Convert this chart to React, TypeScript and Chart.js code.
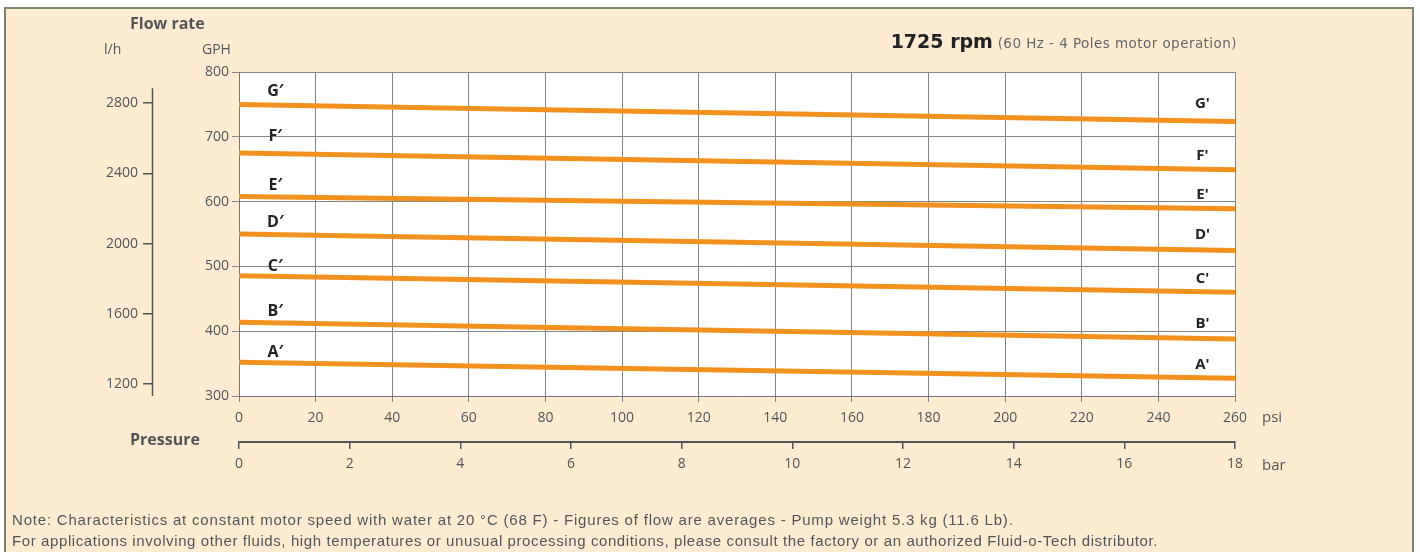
import React, { useEffect, useRef } from "react";
import { Chart, registerables } from "chart.js";

Chart.register(...registerables);

// ---- data ----
const PSI_POINTS = [0, 260];
const SERIES_A = [352, 327.5];
const SERIES_B = [414, 388];
const SERIES_C = [485.5, 460];
const SERIES_D = [550, 524.5];
const SERIES_E = [608, 589];
const SERIES_F = [675, 649];
const SERIES_G = [750, 723.6];
const SERIES_NAMES = ["A", "B", "C", "D", "E", "F", "G"];

const LEFT_LABELS = ["A′", "B′", "C′", "D′", "E′", "F′", "G′"];
const RIGHT_LABELS = ["A'", "B'", "C'", "D'", "E'", "F'", "G'"];
const LEFT_LABEL_GPH = [367, 431, 500, 568, 625.6, 700, 769.6];
const RIGHT_LABEL_GPH = [347.8, 412.2, 481.6, 548.5, 610, 670.8, 750.6];
const LEFT_LABEL_PSI = 9.5;
const RIGHT_LABEL_PSI = 251.5;

const PSI_TICKS = [0, 20, 40, 60, 80, 100, 120, 140, 160, 180, 200, 220, 240, 260];
const GPH_TICKS = [300, 400, 500, 600, 700, 800];
const LH_TICKS = [1200, 1600, 2000, 2400, 2800];
const BAR_TICKS = [0, 2, 4, 6, 8, 10, 12, 14, 16, 18];
const LH_MIN = 1132;
const LH_MAX = 2977;
const LH_AXIS_TOP = 2885;

const ORANGE = "#f2911d";
const TICK_FONT = { family: "'Open Sans', sans-serif", size: 14 };
const TICK_COLOR = "#555";
const plain = (v: any) => String(v);

export default function App() {
  const canvasRef = useRef<HTMLCanvasElement | null>(null);

  useEffect(() => {
    const canvas = canvasRef.current;
    if (!canvas) return;
    const seriesValues = [SERIES_A, SERIES_B, SERIES_C, SERIES_D, SERIES_E, SERIES_F, SERIES_G];

    const bgPlugin = {
      id: "plotBg",
      beforeDraw(chart: any) {
        const { ctx, chartArea } = chart;
        ctx.save();
        ctx.fillStyle = "#ffffff";
        ctx.fillRect(chartArea.left, chartArea.top, chartArea.right - chartArea.left, chartArea.bottom - chartArea.top);
        ctx.restore();
      },
    };

    const decoPlugin = {
      id: "deco",
      afterDraw(chart: any) {
        const { ctx, chartArea } = chart;
        const xs = chart.scales.x;
        const ys = chart.scales.y;
        const y2 = chart.scales.y2;
        ctx.save();
        ctx.strokeStyle = "#555";
        ctx.lineWidth = 1.5;
        ctx.beginPath();
        ctx.moveTo(y2.right - 0.5, y2.getPixelForValue(LH_AXIS_TOP));
        ctx.lineTo(y2.right - 0.5, chartArea.bottom);
        ctx.stroke();
        ctx.fillStyle = "#222";
        ctx.textAlign = "center";
        ctx.textBaseline = "middle";
        ctx.font = "bold 16px 'Open Sans', sans-serif";
        LEFT_LABELS.forEach((t, i) => {
          ctx.fillText(t, xs.getPixelForValue(LEFT_LABEL_PSI), ys.getPixelForValue(LEFT_LABEL_GPH[i]));
        });
        ctx.font = "bold 15px 'Open Sans', sans-serif";
        RIGHT_LABELS.forEach((t, i) => {
          ctx.fillText(t, xs.getPixelForValue(RIGHT_LABEL_PSI), ys.getPixelForValue(RIGHT_LABEL_GPH[i]));
        });
        ctx.restore();
      },
    };

    const chart = new Chart(canvas, {
      type: "line",
      data: {
        datasets: seriesValues.map((vals, i) => ({
          label: SERIES_NAMES[i],
          data: PSI_POINTS.map((p, j) => ({ x: p, y: vals[j] })),
          borderColor: ORANGE,
          backgroundColor: ORANGE,
          borderWidth: 5,
          pointRadius: 0,
          xAxisID: "x",
          yAxisID: "y",
        })),
      },
      options: {
        responsive: false,
        animation: false,
        layout: { padding: { left: 90, top: 72, right: 185, bottom: 80 } },
        plugins: { legend: { display: false }, tooltip: { enabled: false }, title: { display: false } },
        scales: {
          x: {
            type: "linear",
            position: "bottom",
            weight: 0,
            min: 0,
            max: 260,
            afterBuildTicks: (s: any) => { s.ticks = PSI_TICKS.map((v) => ({ value: v })); },
            afterFit: (s: any) => { s.height = 46; },
            ticks: { font: TICK_FONT, color: TICK_COLOR, padding: 8, maxRotation: 0, callback: plain },
            grid: { color: "#858585", lineWidth: 1, tickLength: 6 },
            border: { color: "#777", width: 1 },
          },
          x2: {
            type: "linear",
            position: "bottom",
            weight: 1,
            min: 0,
            max: 18,
            afterBuildTicks: (s: any) => { s.ticks = BAR_TICKS.map((v) => ({ value: v })); },
            afterFit: (s: any) => { s.height = 30; },
            ticks: { font: TICK_FONT, color: TICK_COLOR, padding: 7, maxRotation: 0, callback: plain },
            grid: { drawOnChartArea: false, color: "#555", lineWidth: 1.5, tickLength: 7 },
            border: { color: "#555", width: 2 },
          },
          y: {
            type: "linear",
            position: "left",
            weight: 0,
            min: 300,
            max: 800,
            afterBuildTicks: (s: any) => { s.ticks = GPH_TICKS.map((v) => ({ value: v })); },
            afterFit: (s: any) => { s.width = 86; },
            ticks: { font: TICK_FONT, color: TICK_COLOR, padding: 3, callback: plain },
            grid: { color: "#858585", lineWidth: 1, tickLength: 7 },
            border: { color: "#777", width: 1 },
          },
          y2: {
            type: "linear",
            position: "left",
            weight: 1,
            min: LH_MIN,
            max: LH_MAX,
            afterBuildTicks: (s: any) => { s.ticks = LH_TICKS.map((v) => ({ value: v })); },
            afterFit: (s: any) => { s.width = 63; },
            ticks: { font: TICK_FONT, color: TICK_COLOR, padding: 5, callback: plain },
            grid: { drawOnChartArea: false, color: "#555", lineWidth: 1.5, tickLength: 10 },
            border: { display: false },
          },
        },
      },
      plugins: [bgPlugin, decoPlugin],
    } as any);

    return () => chart.destroy();
  }, []);

  const txt = (extra: React.CSSProperties): React.CSSProperties => ({
    position: "absolute",
    whiteSpace: "nowrap",
    fontFamily: "'Open Sans', sans-serif",
    color: "#555",
    lineHeight: 1,
    ...extra,
  });

  const noteStyle = (top: number, spacing: number) =>
    txt({ left: 12, top, fontSize: 15, letterSpacing: spacing, fontFamily: "'Liberation Sans', Arial, sans-serif" });

  return (
    <div style={{ position: "fixed", left: 0, top: 0, width: 1420, height: 552, overflow: "hidden", background: "#ffffff" }}>
      <div
        style={{
          position: "absolute",
          left: 4,
          top: 7,
          width: 1406,
          height: 560,
          background: "#fdebd2",
          border: "2px solid #7d8570",
        }}
      />
      <canvas ref={canvasRef} width={1420} height={552} style={{ position: "absolute", left: 0, top: 0, width: 1420, height: 552 }} />
      <div style={txt({ left: 130, top: 15, fontSize: 16, fontWeight: 700 })}>Flow rate</div>
      <div style={txt({ left: 104, top: 42, fontSize: 14 })}>l/h</div>
      <div style={txt({ left: 202, top: 42, fontSize: 14 })}>GPH</div>
      <div style={txt({ left: 130, top: 431, fontSize: 16, fontWeight: 700 })}>Pressure</div>
      <div style={txt({ left: 1262, top: 409, fontSize: 15 })}>psi</div>
      <div style={txt({ left: 1262, top: 457, fontSize: 15 })}>bar</div>
      <div style={{ position: "absolute", right: 183, top: 32, whiteSpace: "nowrap", fontFamily: "'DejaVu Sans', sans-serif", lineHeight: 1 }}>
        <span style={{ fontSize: 19, fontWeight: 700, color: "#222" }}>1725 rpm</span>
        <span style={{ fontSize: 13.5, color: "#666", letterSpacing: 0.45 }}> (60 Hz - 4 Poles motor operation)</span>
      </div>
      <div style={noteStyle(512, 0.8)}>
        Note: Characteristics at constant motor speed with water at 20 °C (68 F) - Figures of flow are averages - Pump weight 5.3 kg (11.6 Lb).
      </div>
      <div style={noteStyle(533, 0.6)}>
        For applications involving other fluids, high temperatures or unusual processing conditions, please consult the factory or an authorized Fluid-o-Tech distributor.
      </div>
    </div>
  );
}
